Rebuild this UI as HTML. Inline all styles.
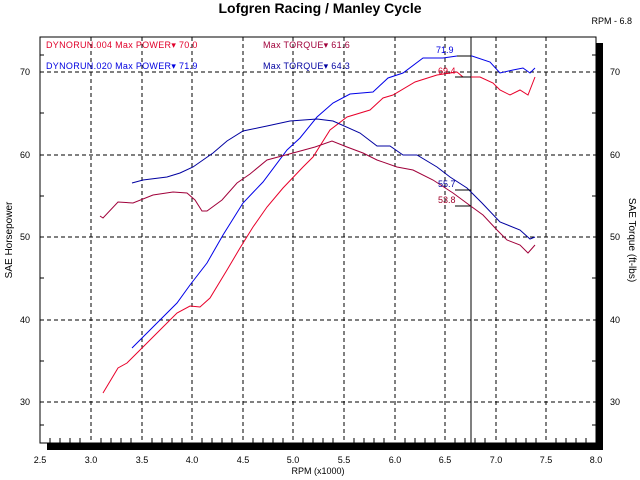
<!DOCTYPE html><html><head><style>body{margin:0;background:#fff}svg{display:block}text{font-family:"Liberation Sans",sans-serif}</style></head><body>
<svg width="640" height="480" viewBox="0 0 640 480" xmlns="http://www.w3.org/2000/svg">
<text x="320" y="13" font-size="14" font-weight="bold" text-anchor="middle">Lofgren Racing / Manley Cycle</text>
<text x="632" y="24" font-size="9" text-anchor="end">RPM - 6.8</text>
<rect x="47" y="443" width="556" height="7" fill="#000"/>
<rect x="596" y="43" width="7" height="407" fill="#000"/>
<rect x="40" y="37" width="556" height="406" fill="#fff" stroke="#000" stroke-width="1"/>
<g stroke="#000" stroke-dasharray="4,3" stroke-width="1">
<line x1="91" y1="37" x2="91" y2="443"/><line x1="142" y1="37" x2="142" y2="443"/><line x1="192" y1="37" x2="192" y2="443"/><line x1="243" y1="37" x2="243" y2="443"/><line x1="293" y1="37" x2="293" y2="443"/><line x1="344" y1="37" x2="344" y2="443"/><line x1="395" y1="37" x2="395" y2="443"/><line x1="445" y1="37" x2="445" y2="443"/><line x1="496" y1="37" x2="496" y2="443"/><line x1="546" y1="37" x2="546" y2="443"/>
<line x1="40" y1="72" x2="596" y2="72"/><line x1="40" y1="155" x2="596" y2="155"/><line x1="40" y1="237" x2="596" y2="237"/><line x1="40" y1="320" x2="596" y2="320"/><line x1="40" y1="402" x2="596" y2="402"/>
</g>
<line x1="471" y1="37" x2="471" y2="443" stroke="#000"/>
<g stroke="#000">
<path d="M40 113h4M40 196h4M40 278h4M40 361h4M592 113h4M592 196h4M592 278h4M592 361h4M40 425h4M592 425h4M40 55h4M592 55h4"/>
<path d="M50 443v-5M60 443v-5M70 443v-5M80 443v-5M101 443v-5M111 443v-5M121 443v-5M131 443v-5M152 443v-5M162 443v-5M172 443v-5M182 443v-5M202 443v-5M212 443v-5M222 443v-5M232 443v-5M253 443v-5M263 443v-5M273 443v-5M283 443v-5M303 443v-5M313 443v-5M323 443v-5M333 443v-5M354 443v-5M364 443v-5M374 443v-5M384 443v-5M405 443v-5M415 443v-5M425 443v-5M435 443v-5M455 443v-5M465 443v-5M475 443v-5M485 443v-5M506 443v-5M516 443v-5M526 443v-5M536 443v-5M556 443v-5M566 443v-5M576 443v-5M586 443v-5"/>
</g>
<g font-size="9" text-anchor="end"><text x="30" y="75">70</text><text x="30" y="158">60</text><text x="30" y="240">50</text><text x="30" y="323">40</text><text x="30" y="405">30</text></g>
<g font-size="9"><text x="610" y="75">70</text><text x="610" y="158">60</text><text x="610" y="240">50</text><text x="610" y="323">40</text><text x="610" y="405">30</text></g>
<g font-size="9" text-anchor="middle"><text x="40" y="463">2.5</text><text x="91" y="463">3.0</text><text x="142" y="463">3.5</text><text x="192" y="463">4.0</text><text x="243" y="463">4.5</text><text x="293" y="463">5.0</text><text x="344" y="463">5.5</text><text x="395" y="463">6.0</text><text x="445" y="463">6.5</text><text x="496" y="463">7.0</text><text x="546" y="463">7.5</text><text x="596" y="463">8.0</text><text x="318" y="474">RPM (x1000)</text></g>
<text transform="translate(12,240) rotate(-90)" font-size="10" text-anchor="middle">SAE Horsepower</text>
<text transform="translate(629,240) rotate(90)" font-size="10" text-anchor="middle">SAE Torque (ft-lbs)</text>
<g font-size="9" letter-spacing="0.3"><text x="46" y="48" fill="#e0002a">DYNORUN.004  Max POWER▾ 70.0</text><text x="263" y="48" fill="#a0003a">Max TORQUE▾ 61.6</text>
<text x="46" y="69" fill="#0000e0">DYNORUN.020  Max POWER▾ 71.9</text><text x="263" y="69" fill="#0000a0">Max TORQUE▾ 64.3</text></g>
<g fill="none" stroke-width="1">
<polyline stroke="#e8002a" points="103,393 118,368 127,363 140,350 160,330 177,313 190,306 200,307 210,298 227,270 240,248 253,227 267,207 283,188 303,167 313,157 330,130 347,117 370,110 383,98 393,95 415,82 437,75 457,72 463,77 480,77 493,83 500,90 510,95 520,90 528,95 535,77"/>
<polyline stroke="#0000e8" points="132,348 157,323 177,303 190,285 207,263 223,235 243,203 263,182 287,150 300,138 317,117 333,103 350,94 373,92 388,78 403,73 423,58 443,58 457,56 472,56 490,62 500,73 513,70 523,68 530,73 535,68"/>
<polyline stroke="#a0003a" points="100,216 103,218 118,202 133,203 153,195 173,192 187,193 195,200 202,211 207,211 222,200 237,183 250,174 267,160 293,153 315,147 332,141 347,147 363,153 377,160 397,167 413,170 433,180 453,193 472,207 483,215 497,230 507,240 520,245 528,253 535,245"/>
<polyline stroke="#0000a0" points="132,183 143,180 167,177 180,173 193,167 213,153 227,141 243,131 267,126 290,121 317,119 333,121 360,133 377,146 390,146 403,155 417,155 437,167 450,177 467,188 482,203 500,222 520,230 530,239 535,237"/>
</g>
<g font-size="9"><text x="436" y="53" fill="#0000e0">71.9</text><text x="438" y="74" fill="#e0002a">69.4</text><text x="438" y="187" fill="#0000a0">55.7</text><text x="438" y="203" fill="#a0002a">53.8</text></g>
<g stroke="#000"><path d="M457 56h14M455 77h16M455 190h16M455 206h16"/></g>
</svg></body></html>
